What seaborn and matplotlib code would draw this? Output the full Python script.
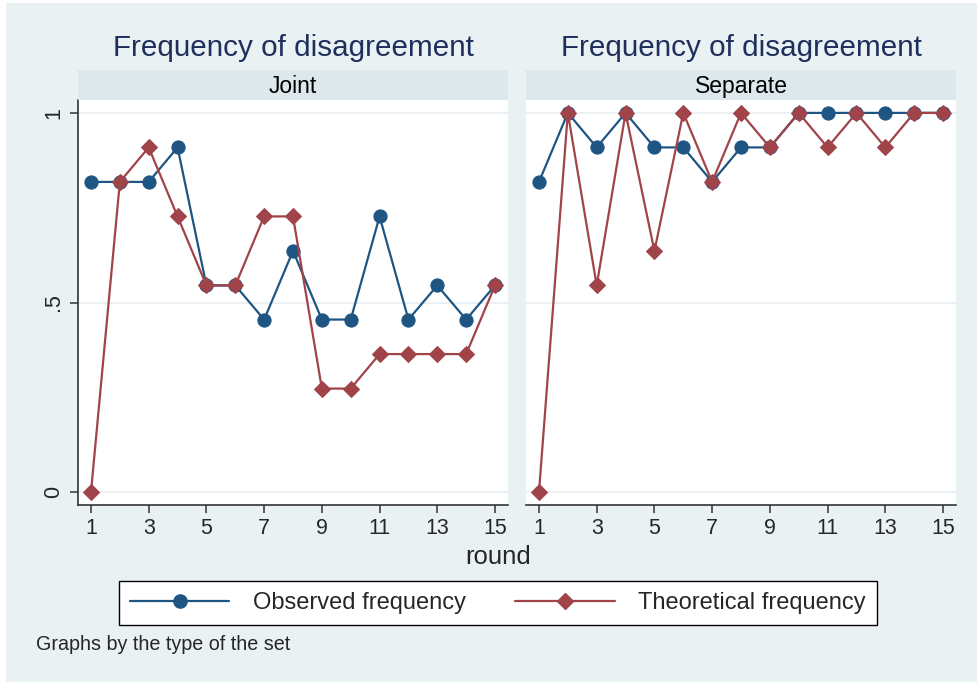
import matplotlib
matplotlib.use('Agg')
import matplotlib.pyplot as plt
from matplotlib.lines import Line2D
from matplotlib.patches import Rectangle
import pandas as pd
import seaborn as sns

# data (shares of 11 groups)
rounds = list(range(1, 16))
joint_observed = [0.818, 0.818, 0.818, 0.909, 0.545, 0.545, 0.455, 0.636,
                  0.455, 0.455, 0.727, 0.455, 0.545, 0.455, 0.545]
joint_theoretical = [0.0, 0.818, 0.909, 0.727, 0.545, 0.545, 0.727, 0.727,
                     0.273, 0.273, 0.364, 0.364, 0.364, 0.364, 0.545]
separate_observed = [0.818, 1.0, 0.909, 1.0, 0.909, 0.909, 0.818, 0.909,
                     0.909, 1.0, 1.0, 1.0, 1.0, 1.0, 1.0]
separate_theoretical = [0.0, 1.0, 0.545, 1.0, 0.636, 1.0, 0.818, 1.0,
                        0.909, 1.0, 0.909, 1.0, 0.909, 1.0, 1.0]
panels = ['Joint', 'Separate']
series_names = ['Observed frequency', 'Theoretical frequency']
x_ticks = [1, 3, 5, 7, 9, 11, 13, 15]
y_ticks = [0, 0.5, 1]
y_tick_labels = ['0', '.5', '1']

sns.set_style('white')
plt.rcParams['font.family'] = ['Liberation Sans', 'DejaVu Sans']

BG = '#eaf1f3'
STRIP = '#dce8ec'
BLUE = '#1f5583'
RED = '#a0444a'
AXIS = '#333333'

df = pd.DataFrame({
    'round': rounds * 4,
    'freq': joint_observed + joint_theoretical + separate_observed + separate_theoretical,
    'series': [series_names[0]] * 15 + [series_names[1]] * 15 + [series_names[0]] * 15 + [series_names[1]] * 15,
    'set': [panels[0]] * 30 + [panels[1]] * 30,
})

W, H = 977, 682
fig = plt.figure(figsize=(W / 100, H / 100), dpi=100, facecolor='white')
fig.patches.append(Rectangle((6 / W, 0), 1, 1 - 3 / H, transform=fig.transFigure,
                             facecolor=BG, edgecolor='none', zorder=-10))

lefts = [78, 526]
top, bottom, strip_h = 100, 505, 30
width = 430

styles = {series_names[0]: dict(color=BLUE, marker='o', ms=9.5),
          series_names[1]: dict(color=RED, marker='D', ms=8.5)}

for i, panel in enumerate(panels):
    x0 = lefts[i] / W
    ax = fig.add_axes([x0, 1 - bottom / H, width / W, (bottom - top) / H])
    ax.set_facecolor('white')
    sub = df[df['set'] == panel]
    for name in series_names:
        s = styles[name]
        d = sub[sub['series'] == name]
        sns.lineplot(data=d, x='round', y='freq', ax=ax, color=s['color'],
                     marker=s['marker'], markersize=s['ms'],
                     markeredgecolor=s['color'], linewidth=1.6, zorder=3)
    for yv in y_ticks:
        ax.axhline(yv, color='#e6eef1', linewidth=1.2, zorder=1)
    ax.set_xlim(0.55, 15.45)
    ax.set_ylim(-0.034, 1.034)
    ax.set_xticks(x_ticks)
    ax.set_xticklabels([str(t) for t in x_ticks], fontsize=15.5)
    ax.set_xlabel('')
    ax.set_ylabel('')
    for sp in ['top', 'right']:
        ax.spines[sp].set_visible(False)
    ax.spines['bottom'].set_color(AXIS)
    ax.spines['bottom'].set_linewidth(1.2)
    ax.tick_params(axis='x', direction='out', length=6, width=1.1,
                   color=AXIS, bottom=True, pad=3)
    if i == 0:
        ax.set_yticks(y_ticks)
        ax.set_yticklabels(y_tick_labels, fontsize=15.5, rotation=90, va='center')
        ax.spines['left'].set_color(AXIS)
        ax.spines['left'].set_linewidth(1.2)
        ax.tick_params(axis='y', direction='out', length=6, width=1.1,
                       color=AXIS, left=True, pad=4)
    else:
        ax.set_yticks(y_ticks)
        ax.set_yticklabels([])
        ax.spines['left'].set_visible(False)
        ax.tick_params(axis='y', left=False)

    # strip header
    sax = fig.add_axes([x0, 1 - top / H, width / W, strip_h / H])
    sax.set_facecolor(STRIP)
    sax.set_xticks([])
    sax.set_yticks([])
    for sp in sax.spines.values():
        sp.set_visible(False)
    sax.text(0.5, 0.45, panel, ha='center', va='center', fontsize=16.5,
             transform=sax.transAxes, color='black')

    fig.text((lefts[i] + width / 2) / W, 1 - 48 / H, 'Frequency of disagreement',
             ha='center', va='center', fontsize=21.3, color='#1e2f5e')

fig.text(498 / W, 1 - 557 / H, 'round', ha='center', va='center', fontsize=18.5)

handles = [Line2D([0], [0], color=BLUE, marker='o', markersize=9.5, linewidth=1.6),
           Line2D([0], [0], color=RED, marker='D', markersize=8.5, linewidth=1.6)]
leg = fig.legend(handles, series_names, loc='center', bbox_to_anchor=(498 / W, 1 - 603 / H),
                 ncol=2, fontsize=17, frameon=True, fancybox=False, numpoints=1,
                 handlelength=4.2, handletextpad=1.0, columnspacing=2.1,
                 borderpad=0.45, borderaxespad=0)
leg.get_frame().set_edgecolor('black')
leg.get_frame().set_linewidth(1.0)
leg.get_frame().set_facecolor('white')
leg.get_frame().set_alpha(1.0)

fig.text(36 / W, 1 - 645 / H, 'Graphs by the type of the set', ha='left',
         va='center', fontsize=14.2)

fig.savefig('out.png', dpi=100, facecolor=fig.get_facecolor())
